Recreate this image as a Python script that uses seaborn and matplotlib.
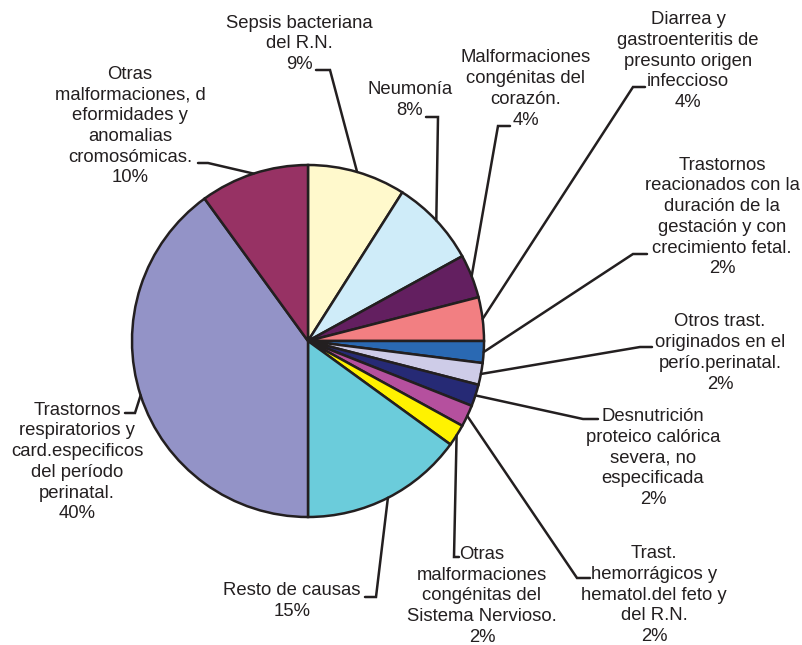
import numpy as np
import matplotlib
matplotlib.use('Agg')
import matplotlib.pyplot as plt
import seaborn as sns

# causes of death (clockwise from 12 o'clock) and their shares
causes = [
    'Sepsis bacteriana\ndel R.N.',
    'Neumonía',
    'Malformaciones\ncongénitas del\ncorazón.',
    'Diarrea y\ngastroenteritis de\npresunto origen\ninfeccioso',
    'Trastornos\nreacionados con la\nduración de la\ngestación y con\ncrecimiento fetal.',
    'Otros trast.\noriginados en el\nperío.perinatal.',
    'Desnutrición\nproteico calórica\nsevera, no\nespecificada',
    'Trast.\nhemorrágicos y\nhematol.del feto y\ndel R.N.',
    'Otras\nmalformaciones\ncongénitas del\nSistema Nervioso.',
    'Resto de causas',
    'Trastornos\nrespiratorios y\ncard.especificos\ndel período\nperinatal.',
    'Otras\nmalformaciones, d\neformidades y\nanomalias\ncromosómicas.',
]
shares = [9, 8, 4, 4, 2, 2, 2, 2, 2, 15, 40, 10]
colors = ['#fff9cc', '#cfecf9', '#631f60', '#f27f82', '#2a69b3', '#cecce8',
          '#262a75', '#b5509e', '#fff200', '#6bccdb', '#9393c7', '#973264']

# label placement in pixels: text block centre, and leader start + elbow
label_pos = [(299, 44), (410, 100), (526, 89), (688, 61), (722, 217), (720, 353),
             (653, 458), (654, 595), (482, 596), (292, 601), (77, 462), (130, 126)]
leaders = [[(316, 70), (330, 70)], [(426, 117), (438, 117)], [(510, 126), (498, 126)],
           [(645, 87), (633, 87)], [(647, 254), (633, 254)], [(652, 347), (640, 347)],
           [(598, 419), (583, 419)], [(590, 578), (577, 578)], [(459, 557), (454, 557)],
           [(365, 597), (376, 597)], [(125, 413), (135, 413)], [(198, 163), (208, 163)]]

W, H = 802, 645
cx, cy, r = 308, 341, 176
ink = '#231f20'

sns.set_theme(style='white')
plt.rcParams['font.family'] = ['Liberation Sans', 'DejaVu Sans']

fig = plt.figure(figsize=(W / 100, H / 100), dpi=100)
ax = fig.add_axes([0, 0, 1, 1])

wedges, _ = ax.pie(shares, colors=colors, startangle=90, counterclock=False,
                   center=(cx, H - cy), radius=r,
                   wedgeprops=dict(edgecolor=ink, linewidth=1.8))

for w, name, share, (tx, ty), pts in zip(wedges, causes, shares, label_pos, leaders):
    ax.text(tx, H - ty, f'{name}\n{share}%', ha='center', va='center',
            fontsize=13.3, color=ink, linespacing=1.29)
    mid = np.deg2rad((w.theta1 + w.theta2) / 2)
    ex, ey = cx + r * np.cos(mid), (H - cy) + r * np.sin(mid)
    xs = [pts[0][0], pts[1][0], ex]
    ys = [H - pts[0][1], H - pts[1][1], ey]
    ax.plot(xs, ys, color=ink, lw=1.8, solid_joinstyle='miter')

ax.set_xlim(0, W)
ax.set_ylim(0, H)
ax.set_aspect('equal')
ax.axis('off')

fig.savefig('out.png', dpi=100, facecolor='white')
